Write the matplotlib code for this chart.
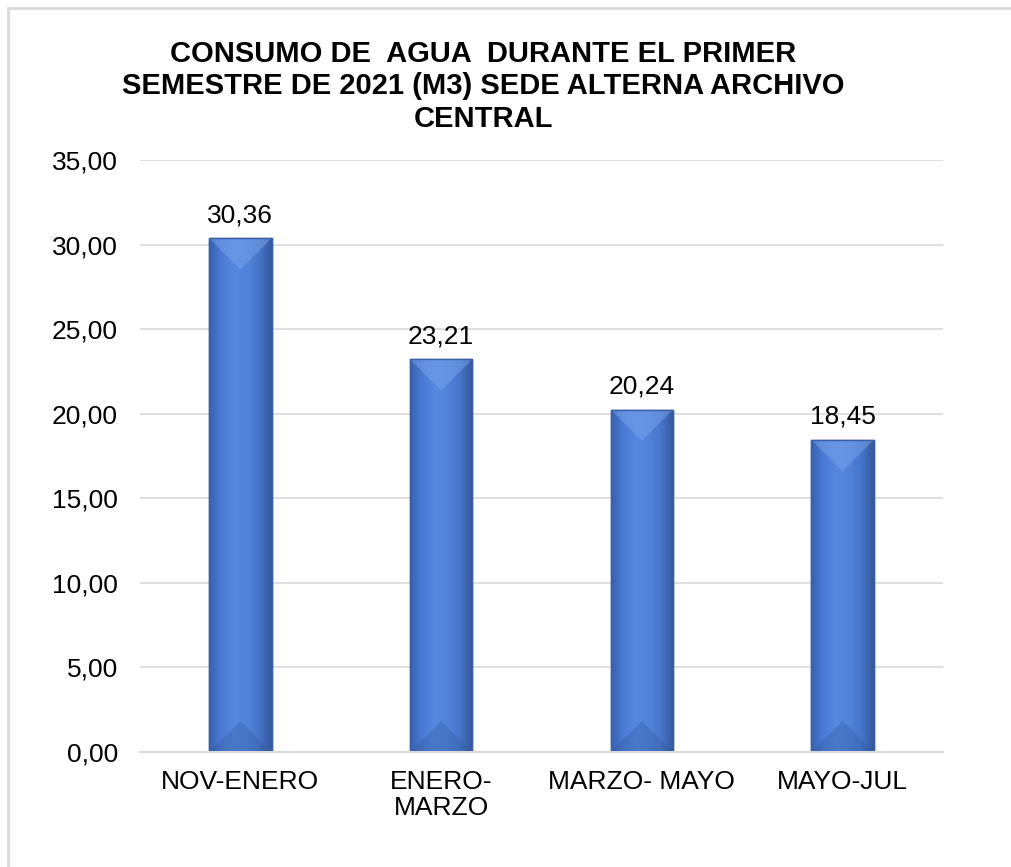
import numpy as np
import matplotlib
matplotlib.use("Agg")
import matplotlib.pyplot as plt
from matplotlib.patches import Polygon, Rectangle
from matplotlib.colors import LinearSegmentedColormap

# data
categories = ["NOV-ENERO", "ENERO-\nMARZO", "MARZO- MAYO", "MAYO-JUL"]
values = [30.36, 23.21, 20.24, 18.45]
title = "CONSUMO DE  AGUA  DURANTE EL PRIMER\nSEMESTRE DE 2021 (M3) SEDE ALTERNA ARCHIVO\nCENTRAL"

plt.rcParams['font.family'] = ['Liberation Sans', 'DejaVu Sans']

fig = plt.figure(figsize=(10.11, 8.67), dpi=100)
ax = fig.add_axes([0.1385, 0.1326, 0.7942, 0.6829])

# outer chart border
fig.patches.append(Rectangle((8 / 1011, -0.01), 1.2, 1 - 8 / 867 + 0.01,
                             transform=fig.transFigure, fill=False,
                             edgecolor="#d9d9d9", linewidth=2))

x = np.arange(len(values))
width = 0.31
ax.set_xlim(-0.5, len(values) - 0.5)
ax.set_ylim(0, 35)

bars = ax.bar(x, values, width=width, color="#4472c4",
              edgecolor="#35599e", linewidth=1.0, zorder=2)

# horizontal shading across each bar
cmap = LinearSegmentedColormap.from_list(
    "bev", ["#3961b0", "#4b7cd5", "#5688df", "#5183da", "#4676ca", "#34589d"])
grad = np.linspace(0, 1, 64).reshape(1, -1)

# bevel depth: half bar width converted to y data units
px_x = ax.transData.transform((1, 0))[0] - ax.transData.transform((0, 0))[0]
px_y = ax.transData.transform((0, 1))[1] - ax.transData.transform((0, 0))[1]
depth = (width / 2) * px_x / px_y

for b, xi, v in zip(bars, x, values):
    x0, x1 = xi - width / 2, xi + width / 2
    im = ax.imshow(grad, cmap=cmap, aspect="auto", extent=[x0, x1, 0, v],
                   zorder=2.1, interpolation="bicubic")
    im.set_clip_path(b)
    ax.add_patch(Polygon([(x0, v), (x1, v), (xi, v - depth)], closed=True,
                         facecolor="#7aa4ea", alpha=0.5, edgecolor="none",
                         zorder=2.2))
    ax.add_patch(Polygon([(x0, 0), (x1, 0), (xi, depth)], closed=True,
                         facecolor="#2f5597", alpha=0.3, edgecolor="none",
                         zorder=2.2))
    ax.add_patch(Rectangle((x0, 0), width, v, fill=False,
                           edgecolor="#3a5fa5", linewidth=1.0, zorder=2.3))
    ax.annotate(f"{v:.2f}".replace(".", ","), (xi, v), xytext=(0, 8),
                textcoords="offset points", ha="center", va="bottom",
                fontsize=19, color="#000000")

ax.set_yticks(np.arange(0, 36, 5))
ax.set_yticklabels([f"{t:.2f}".replace(".", ",") for t in np.arange(0, 36, 5)])
ax.set_xticks(x)
ax.set_xticklabels(categories, linespacing=1.08)
ax.tick_params(axis="both", length=0, labelsize=19, colors="#000000")
ax.tick_params(axis="y", pad=16)
ax.tick_params(axis="x", pad=13)

ax.grid(axis="y", color="#d9d9d9", linewidth=1.2, zorder=0)
ax.set_axisbelow(True)
for s in ["top", "right", "left"]:
    ax.spines[s].set_visible(False)
ax.spines["bottom"].set_color("#d9d9d9")
ax.spines["bottom"].set_linewidth(1.5)

fig.text(0.478, 1 - 40 / 867, title, ha="center", va="top",
         fontsize=21, fontweight="bold", linespacing=1.2)

fig.savefig("out.png", dpi=100)
